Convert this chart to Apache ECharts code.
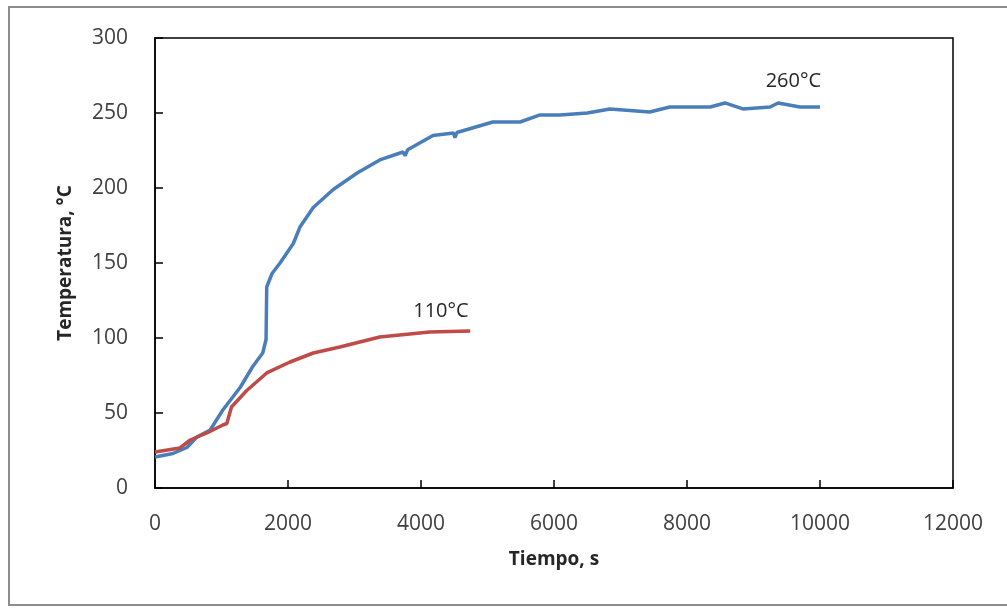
<!DOCTYPE html>
<html lang="es">
<head>
    <meta charset="UTF-8">
    <title>Temperatura vs Tiempo</title>
    <script src="https://cdn.jsdelivr.net/npm/echarts/dist/echarts.min.js"></script>
    <style>
        html, body { margin: 0; padding: 0; background: #fff; }
        #chart { width: 1007px; height: 611px; }
    </style>
</head>
<body>
<div id="chart"></div>
<script>
    // curva 260°C
    let blueTime = [0, 270, 480, 630, 830, 1020, 1280, 1470, 1620, 1670, 1680, 1760, 1880, 2080, 2180, 2380,
        2680, 3040, 3380, 3730, 3760, 3800, 4180, 4490, 4510, 4540, 5080, 5490, 5790, 6090, 6500, 6840,
        7440, 7740, 8350, 8570, 8840, 9250, 9370, 9700, 10000];
    let blueTemp = [20.7, 23, 27, 34, 38.7, 52, 67, 81, 90, 99, 134, 143, 150, 163, 174, 187,
        199, 210, 218.7, 224, 221.5, 225.5, 235, 236.7, 233.5, 237, 244, 244, 248.7, 248.7, 250, 252.7,
        250.7, 254, 254, 256.7, 252.7, 254, 256.7, 254, 254];

    // curva 110°C
    let redTime = [0, 375, 530, 780, 1020, 1080, 1150, 1380, 1680, 2030, 2380, 2780, 3380, 4130, 4740];
    let redTemp = [24, 26.7, 32, 36.7, 42, 43, 54, 65, 76.7, 84, 90, 94, 100.7, 104, 104.7];

    let labels = ['260°C', '110°C'];
    let labelPos = [[9600, 271], [4300, 118]];

    function zip(a, b) {
        return a.map((v, i) => [v, b[i]]);
    }

    let font = 'Open Sans';
    let chart = echarts.init(document.getElementById('chart'));
    chart.setOption({
        animation: false,
        graphic: [{
            type: 'rect',
            shape: { x: 9, y: 7, width: 1020, height: 598 },
            style: { fill: 'none', stroke: '#8c8c8c', lineWidth: 2 }
        }],
        grid: {
            left: 155, right: 54, top: 38, bottom: 123,
            show: true, borderColor: '#000', borderWidth: 1.5
        },
        xAxis: {
            type: 'value',
            min: 0, max: 12000, interval: 2000,
            name: 'Tiempo, s',
            nameLocation: 'middle',
            nameGap: 62,
            nameTextStyle: { fontFamily: font, fontSize: 19, fontWeight: 'bold', color: '#262626' },
            axisLine: { show: true, lineStyle: { color: '#000', width: 1.5 } },
            axisTick: { show: true, inside: true, length: 8, lineStyle: { color: '#000', width: 1.5 } },
            axisLabel: { margin: 26, fontFamily: font, fontSize: 21, color: '#404040', formatter: v => String(v) },
            splitLine: { show: false }
        },
        yAxis: {
            type: 'value',
            min: 0, max: 300, interval: 50,
            name: 'Temperatura, °C',
            nameLocation: 'middle',
            nameGap: 80,
            nameTextStyle: { fontFamily: font, fontSize: 19, fontWeight: 'bold', color: '#262626' },
            axisLine: { show: true, lineStyle: { color: '#000', width: 1.5 } },
            axisTick: { show: true, inside: true, length: 8, lineStyle: { color: '#000', width: 1.5 } },
            axisLabel: { margin: 27, fontFamily: font, fontSize: 21, color: '#404040' },
            splitLine: { show: false }
        },
        series: [
            {
                name: labels[0],
                type: 'line',
                data: zip(blueTime, blueTemp),
                showSymbol: false,
                lineStyle: { color: '#4A7EBB', width: 3.5 },
                markPoint: {
                    symbol: 'circle', symbolSize: 0,
                    label: { show: true, formatter: labels[0], fontFamily: font, fontSize: 20, color: '#262626' },
                    data: [{ coord: labelPos[0] }]
                }
            },
            {
                name: labels[1],
                type: 'line',
                data: zip(redTime, redTemp),
                showSymbol: false,
                lineStyle: { color: '#BE4B48', width: 3.5 },
                markPoint: {
                    symbol: 'circle', symbolSize: 0,
                    label: { show: true, formatter: labels[1], fontFamily: font, fontSize: 20, color: '#262626' },
                    data: [{ coord: labelPos[1] }]
                }
            }
        ]
    });
</script>
</body>
</html>
